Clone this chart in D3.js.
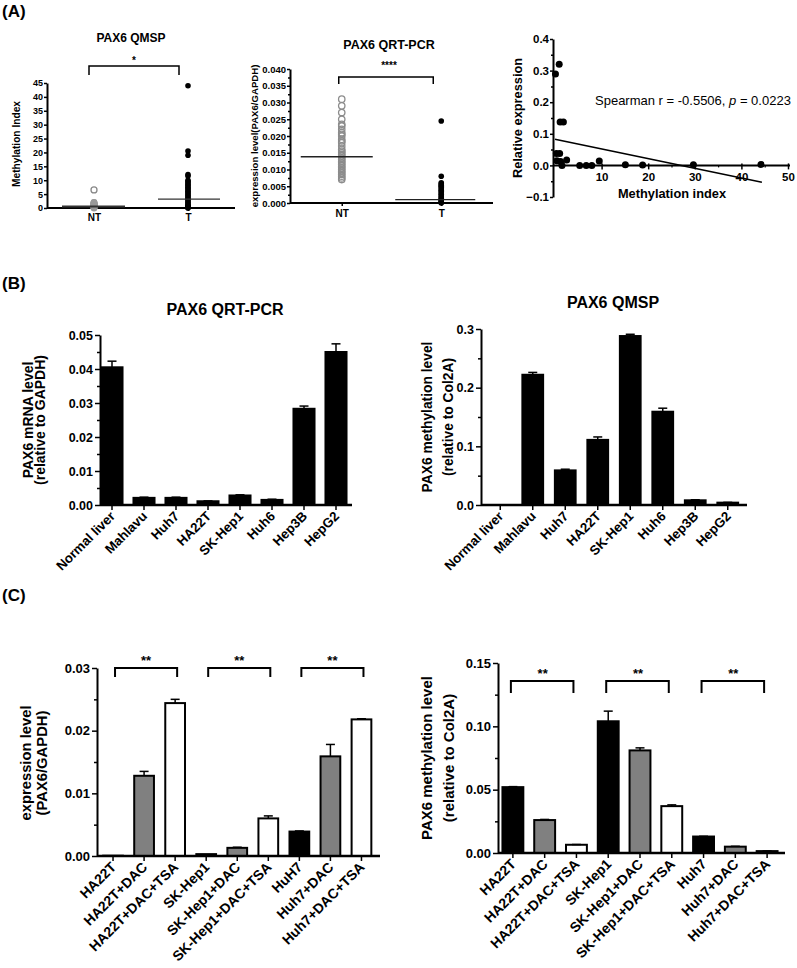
<!DOCTYPE html>
<html><head><meta charset="utf-8">
<script src="https://cdn.jsdelivr.net/npm/d3@7"></script>
<style>body{margin:0;background:#fff}svg{display:block}</style>
</head><body>
<script>
// ---------------- DATA ----------------
// (A) left: PAX6 QMSP, methylation index
const qmspGroups = ["NT", "T"];
const qmspNT = [0, 0.1, 0.2, 0.3, 0.4, 0.5, 0.6, 0.7, 0.8, 0.9, 1.0, 1.1, 1.2, 1.3, 1.4, 1.5, 1.6, 1.7, 1.8, 1.9, 2.0];
const qmspNTOutlier = [6.5];
const qmspT = [44, 20.5, 19, 12, 11.5, 10, 9.5, 9, 8.5, 8, 7.5, 7, 6.5, 6, 5.5, 5, 4.5, 4, 3.5, 3, 2.5, 2, 1.5, 1, 0.8, 0.5, 0.3, 0.1, 0];
const qmspMedians = [0.5, 3.2];
const qmspTicks = [0, 5, 10, 15, 20, 25, 30, 35, 40, 45];

// (A) middle: PAX6 QRT-PCR
const rtGroups = ["NT", "T"];
const rtNT = [0.031, 0.029, 0.027, 0.025, 0.0235, 0.023, 0.022, 0.021, 0.0205, 0.02, 0.019, 0.0185, 0.018, 0.017, 0.016, 0.0155, 0.015, 0.0145, 0.014, 0.0135, 0.013, 0.0125, 0.012, 0.0115, 0.011, 0.0105, 0.01, 0.0095, 0.009, 0.0085, 0.008, 0.0075, 0.007];
const rtT = [0.0245, 0.008, 0.006, 0.0057, 0.0053, 0.005, 0.0046, 0.0042, 0.0038, 0.0034, 0.003, 0.0026, 0.0022, 0.0018, 0.0014, 0.001, 0.0007, 0.0004, 0.0002, 0];
const rtMedians = [0.0138, 0.001];
const rtTicks = [0, 0.005, 0.01, 0.015, 0.02, 0.025, 0.03, 0.035, 0.04];

// (A) right: correlation
const corrX = [0.1, 0.9, 1.1, 1.8, 0.3, 1.0, 0.4, 1.2, 2.5, 1.5, 5.3, 6.7, 7.9, 9.5, 15.1, 18.8, 29.7, 44.2];
const corrY = [0.289, 0.32, 0.137, 0.137, 0.038, 0.038, 0.015, 0.012, 0.017, 0.0, 0, 0, 0, 0.014, 0.002, 0.001, 0.002, 0.003];
const fitX = [0, 44.4];
const fitY = [0.083, -0.053];
const corrXTicks = [10, 20, 30, 40, 50];
const corrYTicks = [-0.1, 0, 0.1, 0.2, 0.3, 0.4];

// (B)
const cellLines = ["Normal liver", "Mahlavu", "Huh7", "HA22T", "SK-Hep1", "Huh6", "Hep3B", "HepG2"];
const mrnaLevel = [0.0405, 0.0021, 0.0021, 0.0011, 0.0028, 0.0015, 0.0283, 0.045];
const mrnaErr = [0.0018, 0.0002, 0.0002, 0.0001, 0.0002, 0.0002, 0.0008, 0.0024];
const methLevel = [0, 0.222, 0.059, 0.111, 0.288, 0.159, 0.008, 0.004];
const methErr = [0, 0.004, 0.002, 0.005, 0.003, 0.006, 0.001, 0.0005];

// (C)
const treatLabelsExpr = ["HA22T", "HA22T+DAC", "HA22T+DAC+TSA", "SK-Hep1", "SK-Hep1+DAC", "SK-Hep1+DAC+TSA", "HuH7", "Huh7+DAC", "Huh7+DAC+TSA"];
const treatLabelsMeth = ["HA22T", "HA22T+DAC", "HA22T+DAC+TSA", "SK-Hep1", "SK-Hep1+DAC", "SK-Hep1+DAC+TSA", "Huh7", "Huh7+DAC", "Huh7+DAC+TSA"];
const treatType = ["ctrl", "DAC", "DAC+TSA", "ctrl", "DAC", "DAC+TSA", "ctrl", "DAC", "DAC+TSA"];
const exprC = [0.00005, 0.0128, 0.0244, 0.0003, 0.0013, 0.006, 0.0039, 0.0159, 0.0218];
const exprErrC = [0, 0.0007, 0.0006, 0, 0.0001, 0.0004, 0.0001, 0.0019, 0.0001];
const methC = [0.052, 0.026, 0.0065, 0.104, 0.081, 0.037, 0.013, 0.005, 0.0015];
const methErrC = [0.0004, 0.0005, 0.0002, 0.008, 0.002, 0.001, 0.0002, 0.0003, 0.0001];
const sigPairs = [[0, 2], [3, 5], [6, 8]];

// ---------------- DRAWING ----------------
const FONT = "Arial, 'Liberation Sans', Helvetica, sans-serif";
const W = 797, H = 968;
const svg = d3.select("body").append("svg").attr("width", W).attr("height", H)
  .attr("font-family", FONT);
svg.append("rect").attr("width", W).attr("height", H).attr("fill", "#fff");

const fillOf = d3.scaleOrdinal().domain(["ctrl", "DAC", "DAC+TSA"]).range(["#000000", "#808080", "#ffffff"]);

function styleAxis(g, fs) {
  g.attr("font-family", FONT);
  g.select(".domain").attr("stroke", "#000").attr("stroke-width", 2);
  g.selectAll(".tick line").attr("stroke", "#000").attr("stroke-width", 1.5);
  g.selectAll(".tick text").attr("font-size", fs).attr("font-weight", "bold")
    .attr("font-family", FONT).attr("fill", "#000");
}
function text(x, y, s, fs, opts = {}) {
  const t = svg.append("text").attr("x", x).attr("y", y).text(s)
    .attr("font-size", fs).attr("font-weight", opts.weight || "bold")
    .attr("text-anchor", opts.anchor || "middle").attr("fill", "#000");
  if (opts.rotate) t.attr("transform", `rotate(${opts.rotate},${x},${y})`);
  return t;
}
function bracket(x1, x2, yTop, yTip, sw) {
  svg.append("path").attr("d", `M${x1},${yTip}V${yTop}H${x2}V${yTip}`)
    .attr("fill", "none").attr("stroke", "#000").attr("stroke-width", sw);
}
function minorAxis(scale, x, vals, size) {
  const g = svg.append("g").attr("transform", `translate(${x},0)`)
    .call(d3.axisLeft(scale).tickValues(vals).tickSize(size).tickFormat(""));
  g.select(".domain").remove();
  g.selectAll(".tick line").attr("stroke", "#000").attr("stroke-width", 1.5);
}

// Panel labels
text(2, 17, "(A)", 17, { anchor: "start" });
text(2, 289, "(B)", 17, { anchor: "start" });
text(2, 601, "(C)", 17, { anchor: "start" });

// ---------- A1: PAX6 QMSP dot plot ----------
(function () {
  const x = d3.scalePoint().domain(qmspGroups).range([47, 235]).padding(0.5);
  const y = d3.scaleLinear().domain([0, 45]).range([208, 83]);
  const gy = svg.append("g").attr("transform", "translate(47,0)")
    .call(d3.axisLeft(y).tickValues(qmspTicks).tickSize(3).tickSizeOuter(0).tickFormat(d3.format("d")));
  styleAxis(gy, 9);
  gy.selectAll(".tick text").attr("x", -4);
  const gx = svg.append("g").attr("transform", "translate(0,208)")
    .call(d3.axisBottom(x).tickSize(3).tickSizeOuter(0));
  gx.select(".domain").attr("d", "M47,0H235");
  styleAxis(gx, 10);
  gx.selectAll(".tick text").attr("y", 5).attr("dy", "0.8em");
  svg.append("g").selectAll("circle").data(qmspNT).join("circle")
    .attr("cx", x("NT")).attr("cy", d => y(d)).attr("r", 2.8)
    .attr("fill", "#999").attr("stroke", "#999").attr("stroke-width", 1.2);
  svg.append("g").selectAll("circle").data(qmspNTOutlier).join("circle")
    .attr("cx", x("NT")).attr("cy", d => y(d)).attr("r", 3)
    .attr("fill", "#fff").attr("stroke", "#888").attr("stroke-width", 1.3);
  svg.append("g").selectAll("circle").data(qmspT).join("circle")
    .attr("cx", x("T")).attr("cy", d => y(d)).attr("r", 2.8).attr("fill", "#000");
  svg.append("g").selectAll("line").data(qmspMedians).join("line")
    .attr("x1", (d, i) => x(qmspGroups[i]) - 32 + i * 2).attr("x2", (d, i) => x(qmspGroups[i]) + 31 + i * 1)
    .attr("y1", d => y(d)).attr("y2", d => y(d))
    .attr("stroke", "#333").attr("stroke-width", (d, i) => i === 0 ? 2 : 1.2);
  text(131, 42, "PAX6 QMSP", 12);
  bracket(x("NT") - 5, x("T") - 9, 66, 75, 1.5);
  text(134, 64, "*", 10);
  text(20, 144, "Methylation Index", 10.2, { rotate: -90 });
})();

// ---------- A2: PAX6 QRT-PCR dot plot ----------
(function () {
  const x = d3.scalePoint().domain(rtGroups).range([290, 493]).padding(0.52);
  const y = d3.scaleLinear().domain([0, 0.04]).range([203, 69]);
  const gy = svg.append("g").attr("transform", "translate(290,0)")
    .call(d3.axisLeft(y).tickValues(rtTicks).tickSize(3).tickSizeOuter(0).tickFormat(d3.format(".3f")));
  styleAxis(gy, 9.5);
  gy.selectAll(".tick text").attr("x", -4);
  minorAxis(y, 290, [0.0025, 0.0075, 0.0125, 0.0175, 0.0225, 0.0275, 0.0325, 0.0375], 2);
  const gx = svg.append("g").attr("transform", "translate(0,203)")
    .call(d3.axisBottom(x).tickSize(3).tickSizeOuter(0));
  gx.select(".domain").attr("d", "M290,0H493");
  styleAxis(gx, 10);
  gx.selectAll(".tick text").attr("y", 6).attr("dy", "0.8em");
  svg.append("g").selectAll("circle").data(rtNT).join("circle")
    .attr("cx", x("NT")).attr("cy", d => y(d)).attr("r", 3.2)
    .attr("fill", "none").attr("stroke", "#8c8c8c").attr("stroke-width", 1.3);
  svg.append("g").selectAll("circle").data(rtT).join("circle")
    .attr("cx", x("T")).attr("cy", d => y(d)).attr("r", 2.8).attr("fill", "#000");
  svg.append("g").selectAll("line").data(rtMedians).join("line")
    .attr("x1", (d, i) => x(rtGroups[i]) - (i === 0 ? 41 : 46)).attr("x2", (d, i) => x(rtGroups[i]) + (i === 0 ? 31 : 34))
    .attr("y1", d => y(d)).attr("y2", d => y(d))
    .attr("stroke", "#222").attr("stroke-width", 1.3);
  text(389, 49, "PAX6 QRT-PCR", 12.5);
  bracket(x("NT") - 3, x("T") - 8, 77, 84, 1.5);
  text(389, 69, "****", 10);
  text(258, 136, "expression level(PAX6/GAPDH)", 9.6, { rotate: -90 });
})();

// ---------- A3: correlation ----------
(function () {
  const x = d3.scaleLinear().domain([0, 50]).range([555, 788]);
  const y = d3.scaleLinear().domain([-0.1, 0.4]).range([197, 39]);
  const gy = svg.append("g").attr("transform", "translate(553,0)")
    .call(d3.axisLeft(y).tickValues(corrYTicks).tickSize(3).tickSizeOuter(0).tickFormat(d3.format(".1f")));
  styleAxis(gy, 11.5);
  gy.selectAll(".tick text").attr("x", -4);
  minorAxis(y, 553, [-0.05, 0.05, 0.15, 0.25, 0.35], 2);
  const gx = svg.append("g").attr("transform", `translate(0,${y(0)})`)
    .call(d3.axisBottom(x).tickValues(corrXTicks).tickSize(4).tickSizeOuter(0).tickFormat(d3.format("d")));
  gx.select(".domain").attr("d", "M553,0H790");
  styleAxis(gx, 11.5);
  gx.selectAll(".tick line").attr("y1", -2);
  gx.selectAll(".tick text").attr("y", 6).attr("dy", "0.8em");
  const gm = svg.append("g").attr("transform", `translate(0,${y(0)})`)
    .call(d3.axisBottom(x).tickValues([5, 15, 25, 35, 45]).tickSize(2).tickFormat(""));
  gm.select(".domain").remove();
  gm.selectAll(".tick line").attr("stroke", "#000").attr("stroke-width", 1.2);
  svg.append("g").selectAll("circle").data(corrX).join("circle")
    .attr("cx", d => x(d)).attr("cy", (d, i) => y(corrY[i])).attr("r", 3.5).attr("fill", "#000");
  svg.append("line").attr("x1", x(fitX[0])).attr("y1", y(fitY[0]))
    .attr("x2", x(fitX[1])).attr("y2", y(fitY[1])).attr("stroke", "#000").attr("stroke-width", 1.5);
  const t = svg.append("text").attr("x", 595).attr("y", 105).attr("font-size", 13).attr("fill", "#000");
  t.append("tspan").text("Spearman r = -0.5506, ");
  t.append("tspan").attr("font-style", "italic").text("p");
  t.append("tspan").text(" = 0.0223");
  text(672, 198, "Methylation index", 12.8);
  text(522, 118, "Relative expression", 12.8, { rotate: -90 });
})();

// ---------- Bar chart helper ----------
function barChart(o) {
  const x = d3.scaleBand().domain(o.labels).range(o.xRange).paddingInner(o.pad).paddingOuter(o.pad / 2);
  const y = d3.scaleLinear().domain([0, o.yMax]).range([o.y0, o.y1]);
  svg.append("g").selectAll("rect").data(o.values).join("rect")
    .attr("x", (d, i) => x(o.labels[i]) + 1).attr("width", x.bandwidth() - 2)
    .attr("y", d => y(d)).attr("height", d => Math.max(0, y(0) - y(d)))
    .attr("fill", (d, i) => o.fills[i]).attr("stroke", "#000").attr("stroke-width", 2);
  const eg = svg.append("g").attr("stroke", "#000").attr("stroke-width", 1.5);
  o.values.forEach((v, i) => {
    if (!o.errs[i]) return;
    const cx = x(o.labels[i]) + x.bandwidth() / 2;
    eg.append("line").attr("x1", cx).attr("x2", cx).attr("y1", y(v)).attr("y2", y(v + o.errs[i]));
    eg.append("line").attr("x1", cx - 4.5).attr("x2", cx + 4.5).attr("y1", y(v + o.errs[i])).attr("y2", y(v + o.errs[i]));
  });
  const gy = svg.append("g").attr("transform", `translate(${o.axisX},0)`)
    .call(d3.axisLeft(y).tickValues(o.ticks).tickSize(5).tickSizeOuter(0).tickFormat(d3.format(o.fmt)));
  styleAxis(gy, o.tickFs);
  gy.selectAll(".tick text").attr("x", -7);
  minorAxis(y, o.axisX, o.minor, 3);
  const gx = svg.append("g").attr("transform", `translate(0,${o.y0})`)
    .call(d3.axisBottom(x).tickSize(5).tickSizeOuter(0).tickFormat(""));
  gx.select(".domain").attr("d", `M${o.axisX},0H${o.axisEnd}`);
  styleAxis(gx, o.labelFs);
  gx.select(".domain").attr("stroke-width", 2.5);
  svg.append("g").selectAll("text").data(o.labels).join("text")
    .attr("transform", d => `translate(${x(d) + x.bandwidth() / 2 + 4},${o.y0 + 12}) rotate(-45)`)
    .attr("text-anchor", "end").attr("font-size", o.labelFs).attr("font-weight", "bold")
    .attr("fill", "#000").text(d => d);
  o.ylab.forEach((s, i) => text(o.ylabX[i], o.ylabY, s, o.ylabFs, { rotate: -90 }));
  if (o.title) text(o.title[1], o.title[2], o.title[0], 16);
  return { x, y };
}

// ---------- B1 ----------
barChart({
  labels: cellLines, values: mrnaLevel, errs: mrnaErr, fills: cellLines.map(() => "#000"),
  xRange: [96, 352], pad: 0.28, yMax: 0.05, y0: 505, y1: 335, axisX: 100, axisEnd: 352,
  ticks: [0, 0.01, 0.02, 0.03, 0.04, 0.05], minor: [0.005, 0.015, 0.025, 0.035, 0.045], fmt: ".2f",
  tickFs: 12.5, labelFs: 13.3, ylab: ["PAX6 mRNA level", "(relative to GAPDH)"], ylabX: [33, 45], ylabY: 420, ylabFs: 14,
  title: ["PAX6 QRT-PCR", 225, 315]
});
// ---------- B2 ----------
barChart({
  labels: cellLines, values: methLevel, errs: methErr, fills: cellLines.map(() => "#000"),
  xRange: [484, 744], pad: 0.3, yMax: 0.3, y0: 505, y1: 329, axisX: 481, axisEnd: 747,
  ticks: [0, 0.1, 0.2, 0.3], minor: [0.05, 0.15, 0.25], fmt: ".1f",
  tickFs: 12.5, labelFs: 13.3, ylab: ["PAX6 methylation level", "(relative to Col2A)"], ylabX: [432, 453], ylabY: 417, ylabFs: 13.8,
  title: ["PAX6 QMSP", 613, 308]
});
// ---------- C1 ----------
(function () {
  const r = barChart({
    labels: treatLabelsExpr, values: exprC, errs: exprErrC, fills: treatType.map(t => fillOf(t)),
    xRange: [97.5, 377], pad: 0.3, yMax: 0.03, y0: 856, y1: 668, axisX: 97, axisEnd: 380,
    ticks: [0, 0.01, 0.02, 0.03], minor: [0.005, 0.015, 0.025], fmt: ".2f",
    tickFs: 13, labelFs: 14, ylab: ["expression level", "(PAX6/GAPDH)"], ylabX: [31, 47], ylabY: 763, ylabFs: 14.8
  });
  sigPairs.forEach(([a, b]) => {
    const xa = r.x(treatLabelsExpr[a]) + r.x.bandwidth() / 2, xb = r.x(treatLabelsExpr[b]) + r.x.bandwidth() / 2;
    bracket(xa + 2, xb + 2, 668, 677, 2);
    text((xa + xb) / 2 + 2, 665, "**", 13);
  });
})();
// ---------- C2 ----------
(function () {
  const r = barChart({
    labels: treatLabelsMeth, values: methC, errs: methErrC, fills: treatType.map(t => fillOf(t)),
    xRange: [497, 783], pad: 0.28, yMax: 0.15, y0: 853, y1: 663, axisX: 498, axisEnd: 785,
    ticks: [0, 0.05, 0.1, 0.15], minor: [0.025, 0.075, 0.125], fmt: ".2f",
    tickFs: 13, labelFs: 14, ylab: ["PAX6 methylation level", "(relative to Col2A)"], ylabX: [432, 454], ylabY: 758, ylabFs: 15
  });
  sigPairs.forEach(([a, b]) => {
    const xa = r.x(treatLabelsMeth[a]) + r.x.bandwidth() / 2, xb = r.x(treatLabelsMeth[b]) + r.x.bandwidth() / 2;
    bracket(xa - 2, xb - 3, 681, 693, 2);
    text((xa + xb) / 2 - 2, 678, "**", 13);
  });
})();
</script>
</body></html>
